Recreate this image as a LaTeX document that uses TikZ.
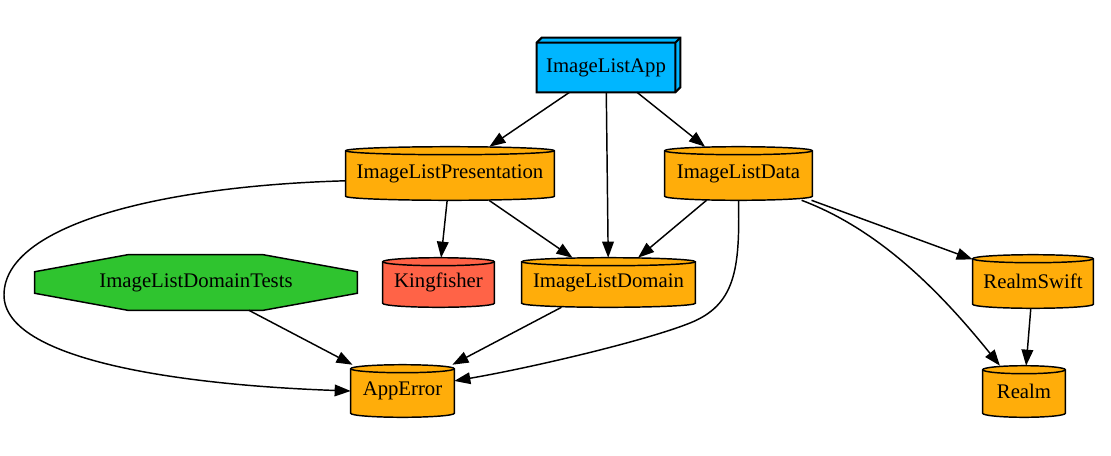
\documentclass[tikz,border=0pt]{standalone}
\usepackage{fontspec}
\setmainfont{Liberation Serif}
\usetikzlibrary{arrows.meta,calc,backgrounds}
\definecolor{appblue}{HTML}{00B6FF}
\definecolor{orng}{HTML}{FFAD0A}
\definecolor{tomatoc}{HTML}{FF6347}
\definecolor{grn}{HTML}{2FC42F}
\def\px{0.685pt}
\newcommand\cylshape[2]{%
  \path[draw, line width=1pt, fill=#2] let \p1=(#1.north west), \p2=(#1.south east), \n1={(\x2-\x1)/2} in
    (\x1,\y1-2.74pt) -- (\x1,\y2+2.74pt)
    arc[start angle=180,end angle=360,x radius=\n1,y radius=2.74pt]
    -- (\x2,\y1-2.74pt)
    arc[start angle=0,end angle=180,x radius=\n1,y radius=2.74pt] -- cycle;
  \draw[line width=1pt] let \p1=(#1.north west), \p2=(#1.south east), \n1={(\x2-\x1)/2} in
    (\x1,\y1-2.74pt) arc[start angle=180,end angle=360,x radius=\n1,y radius=2.74pt];
}
\tikzset{
  lbl/.style={inner sep=0pt, font=\fontsize{14.2pt}{16pt}\selectfont},
  cyllbl/.style={lbl, text depth=-2pt},
  conn/.style={line width=1pt, -{Triangle[length=11pt,width=8pt]}},
}
\begin{document}
\begin{tikzpicture}[x=\px,y=-\px]
\useasboundingbox (0,0) rectangle (1111,455);
\node[lbl, minimum width=138*\px, minimum height=49*\px] (app) at (606,67.5) {ImageListApp};
\node[lbl, minimum width=208*\px, minimum height=53*\px] (pres) at (450,173.5) {\raisebox{-1.2pt}{ImageListPresentation}};
\node[lbl, minimum width=147*\px, minimum height=53*\px] (data) at (738.5,173.5) {\raisebox{-1.2pt}{ImageListData}};
\node[lbl, minimum width=322*\px, minimum height=55*\px] (tests) at (196,282.5) {ImageListDomainTests};
\node[lbl, minimum width=111*\px, minimum height=49*\px] (king) at (438.5,282.5) {\raisebox{-1.2pt}{Kingfisher}};
\node[lbl, minimum width=173*\px, minimum height=49*\px] (dom) at (608.5,282.5) {\raisebox{-1.2pt}{ImageListDomain}};
\node[lbl, minimum width=103*\px, minimum height=52*\px] (err) at (402.5,391) {\raisebox{-1.2pt}{AppError}};
\node[lbl, minimum width=120*\px, minimum height=53*\px] (rswift) at (1033,281.5) {\raisebox{-1.2pt}{RealmSwift}};
\node[lbl, minimum width=82*\px, minimum height=51*\px] (realm) at (1024,391.5) {\raisebox{-1.2pt}{Realm}};
\begin{pgfonlayer}{background}
  \draw[line width=1.4pt, fill=appblue, line join=miter] (app.north west) -- ($(app.north west)+(5,-5)$) -- ($(app.north east)+(5,-5)$) -- ($(app.south east)+(5,-5)$) -- (app.south east) -- (app.south west) -- cycle;
  \draw[line width=1.4pt] (app.north west) -- (app.north east) -- (app.south east) (app.north east) -- ($(app.north east)+(5,-5)$);
  \cylshape{pres}{orng}
  \cylshape{data}{orng}
  \cylshape{king}{tomatoc}
  \cylshape{dom}{orng}
  \cylshape{err}{orng}
  \cylshape{rswift}{orng}
  \cylshape{realm}{orng}
  \draw[line width=1pt, fill=grn] ($(tests.north west)+(0,17)$) -- ($(tests.north west)+(93,0)$) -- ($(tests.north east)+(-94,0)$) -- ($(tests.north east)+(0,17)$) -- ($(tests.south east)+(0,-17)$) -- ($(tests.south east)+(-94,0)$) -- ($(tests.south west)+(93,0)$) -- ($(tests.south west)+(0,-17)$) -- cycle;
\end{pgfonlayer}
\draw[conn] (app) -- (pres);
\draw[conn] (app) -- (dom);
\draw[conn] (app) -- (data);
\draw[conn] (pres) -- (king);
\draw[conn] (pres) -- (dom);
\draw[conn] (data) -- (dom);
\draw[conn] (pres.184) .. controls (160,186) and (4,225) .. (4,295) .. controls (4,360) and (180,385) .. (err.west);
\draw[conn] (tests) -- (err);
\draw[conn] (dom) -- (err);
\draw[conn] (data.south) .. controls (740,270) and (735,305) .. (690,323) .. controls (645,341) and (530,368) .. (err.11);
\draw[conn] (data) -- (rswift);
\draw[conn] (data.337) .. controls (875,228) and (935,285) .. (realm.133);
\draw[conn] (rswift) -- (realm);
\end{tikzpicture}
\end{document}
